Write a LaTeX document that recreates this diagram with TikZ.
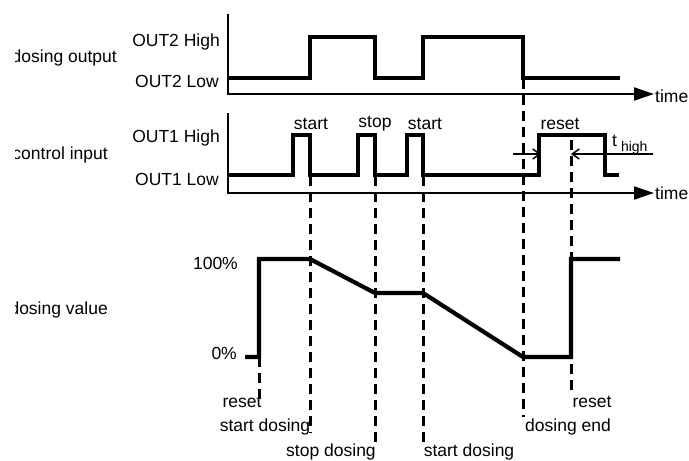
\documentclass[tikz,border=0pt]{standalone}
\usepackage{fontspec}
\setmainfont{Liberation Sans}
\usetikzlibrary{arrows.meta}
\tikzset{
  sig/.style={line width=4.2pt, line join=miter, line cap=butt},
  axis/.style={line width=2pt},
  timeaxis/.style={line width=2pt, -{Triangle[length=20pt,width=13pt]}},
  guide/.style={line width=3pt, dash pattern=on 10pt off 6pt},
  lbl/.style={inner sep=0pt, font=\fontsize{17.5}{20}\selectfont},
  dim/.style={line width=1.5pt, -{Straight Barb[length=7pt,width=10pt]}},
}
\begin{document}
\begin{tikzpicture}[x=1pt,y=-1pt]
\useasboundingbox (0,0) rectangle (689,461);
% left labels (clipped at left)
\begin{scope}
\clip (15,0) rectangle (200,461);
\node[lbl,anchor=east] (ldo) at (117,58) {dosing output};
\node[lbl,anchor=east] (lci) at (108,155) {control input};
\node[lbl,anchor=east] (ldv) at (108,310) {dosing value};
\end{scope}
% level labels
\node[lbl,anchor=east] (o2h) at (220,42) {OUT2 High};
\node[lbl,anchor=east] (o2l) at (219,81) {OUT2 Low};
\node[lbl,anchor=east] (o1h) at (220,138) {OUT1 High};
\node[lbl,anchor=east] (o1l) at (219,179) {OUT1 Low};
\node[lbl,anchor=east] (p100) at (238,263) {100\%};
\node[lbl,anchor=east] (p0) at (237,353) {0\%};
% axes
\coordinate (a1t) at (228,14); \coordinate (a1o) at (228,94); \coordinate (a1e) at (654,94);
\coordinate (a2t) at (228,113); \coordinate (a2o) at (228,193); \coordinate (a2e) at (654,193);
\draw[axis] (a1t) -- (228,95);
\draw[timeaxis] (227,94) -- (a1e);
\draw[axis] (a2t) -- (228,194);
\draw[timeaxis] (227,193) -- (a2e);
\node[lbl,anchor=west] (t1) at (655,96) {time};
\node[lbl,anchor=west] (t2) at (655,193.5) {time};
% dashed guides
\draw[guide] (259,357) -- (259,400);
\draw[guide] (310,176) -- (310,433);
\draw[guide] (375,176) -- (375,442);
\draw[guide] (423,176) -- (423,442);
\draw[guide] (523,79) -- (523,417);
\draw[guide] (571,140) -- (571,392);
% dosing output signal
\draw[sig] (228,78) -- (310,78) -- (310,37) -- (375,37) -- (375,78) -- (423,78) -- (423,37) -- (523,37) -- (523,78) -- (620,78);
% control input signal
\draw[sig] (228,175) -- (293,175) -- (293,135) -- (310,135) -- (310,175) -- (358,175) -- (358,135) -- (375,135) -- (375,175) -- (407,175) -- (407,135) -- (423,135) -- (423,175) -- (539,175) -- (539,135) -- (605,135) -- (605,175) -- (619,175);
% dosing value
\draw[sig] (245,357) -- (259,357) -- (259,259) -- (310,259) -- (375,293) -- (423,293) -- (523,357) -- (571,357) -- (571,259) -- (620,259);
% t_high arrows
\coordinate (th1) at (513,154); \coordinate (th2) at (541,154);
\coordinate (th3) at (653,154); \coordinate (th4) at (571,154);
\draw[dim] (th1) -- (th2);
\draw[dim] (th3) -- (th4);
\node[lbl,anchor=base west] (th) at (612,146) {t\hspace{4pt}{\fontsize{14}{16}\selectfont\raisebox{-5pt}{high}}};
% top labels
\node[lbl] (s1) at (311,124) {start};
\node[lbl] (s2) at (375,124) {stop};
\node[lbl] (s3) at (425,124) {start};
\node[lbl] (s4) at (560,124) {reset};
% bottom labels
\node[lbl] (b1) at (242,402) {reset};
\node[lbl] (b2) at (265,427) {start dosing};
\node[lbl] (b3) at (331,452) {stop dosing};
\node[lbl] (b4) at (469,452) {start dosing};
\node[lbl] (b5) at (568,427) {dosing end};
\node[lbl] (b6) at (592,402) {reset};
\end{tikzpicture}
\end{document}
